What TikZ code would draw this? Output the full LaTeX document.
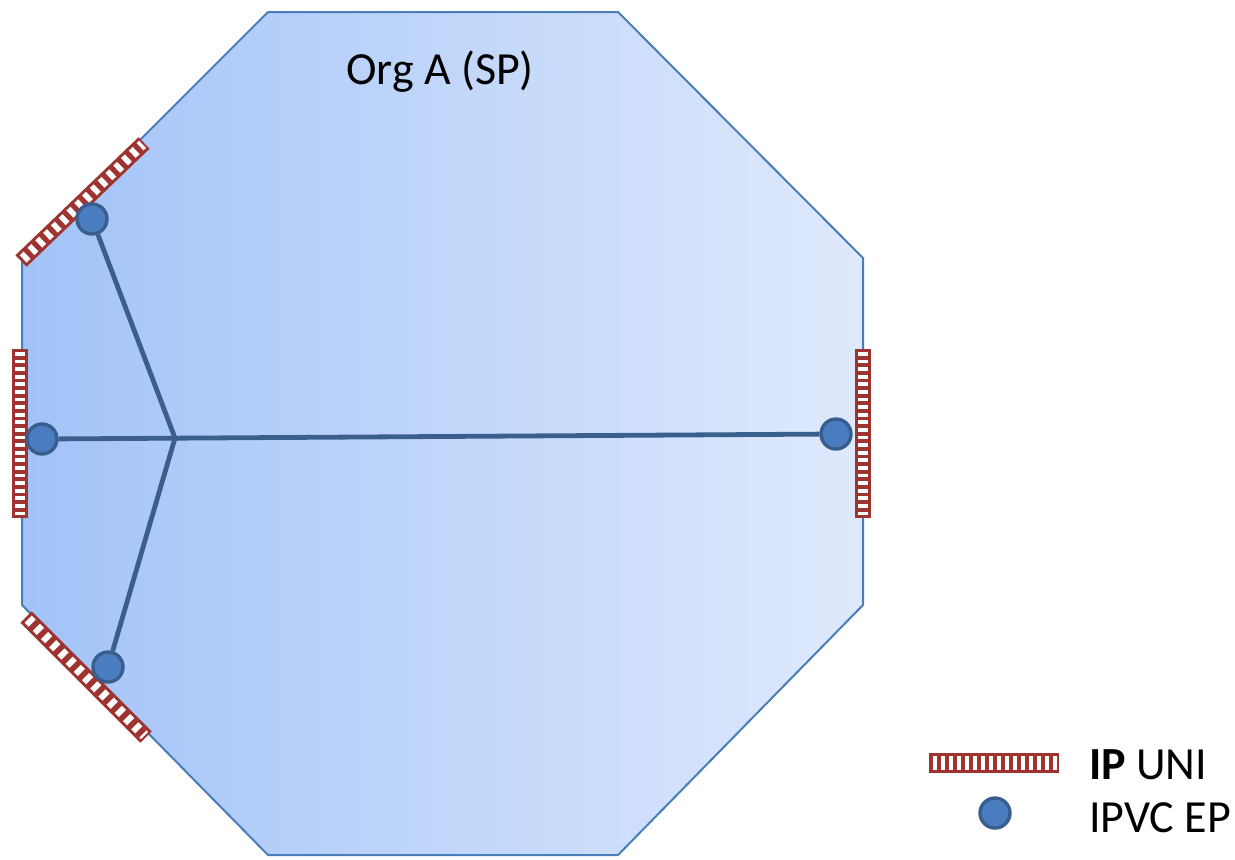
\documentclass[tikz,border=0pt]{standalone}
\usepackage{fontspec}
\setmainfont{Carlito}
\usetikzlibrary{positioning}
\definecolor{cedge}{HTML}{4A7EBB}
\definecolor{cleft}{HTML}{A2C3F8}
\definecolor{cright}{HTML}{DFE9FC}
\definecolor{cuni}{HTML}{9E3330}
\definecolor{cdot}{HTML}{4A7DBF}
\definecolor{cdotrim}{HTML}{385E8E}
\definecolor{cline}{HTML}{3A5F8C}

\begin{document}
\begin{tikzpicture}[
  x=0.5pt, y=-0.5pt,
  font=\fontsize{23}{28}\selectfont,
  org/.style={draw=cedge, line width=1pt, left color=cleft, right color=cright},
  unibar/.style={draw=cuni, line width=8pt},
  unistripe/.style={draw=white, line width=5pt, dash pattern=on #1 off #1},
  ep/.style={circle, fill=cdot, draw=cdotrim, line width=1.7pt, minimum size=15pt, inner sep=0pt},
  vc/.style={draw=cline, line width=2.4pt},
]
\useasboundingbox (0,0) rectangle (1235,859);
% Octagon
\path[org] (268,12) -- (618,12) -- (863,258) -- (863,605) -- (618,855)
  -- (268,855) -- (22,605) -- (22,258) -- cycle;
\node (title) at (440,72) {Org A (SP)};
% UNI bars
\coordinate (uniNWa) at (21,261);  \coordinate (uniNWb) at (144,143);
\coordinate (uniWa)  at (20,349);  \coordinate (uniWb)  at (20,518);
\coordinate (uniEa)  at (863,349); \coordinate (uniEb)  at (863,518);
\coordinate (uniSWa) at (26,617);  \coordinate (uniSWb) at (146,737);
\foreach \a/\b/\d in {uniNWa/uniNWb/2.7pt, uniWa/uniWb/1.9pt, uniEa/uniEb/1.9pt, uniSWa/uniSWb/2.9pt}{
  \draw[unibar] (\a) -- (\b);
  \draw[unistripe=\d, shorten <=1.5pt, shorten >=1pt] (\a) -- (\b);
}
% IPVC
\coordinate (hub) at (175,438);
\node[ep] (epNW) at (92,219) {};
\node[ep] (epW)  at (42,439) {};
\node[ep] (epE)  at (836,434) {};
\node[ep] (epSW) at (108,667) {};
\draw[vc] (epW) -- (epE);
\draw[vc] (epNW) -- (hub) -- (epSW);
% Legend
\coordinate (legUa) at (929,763); \coordinate (legUb) at (1059,763);
\draw[draw=cuni, line width=10pt] (legUa) -- (legUb);
\draw[draw=white, line width=7pt, dash pattern=on 2pt off 2pt, shorten <=2pt, shorten >=1pt] (legUa) -- (legUb);
\node[anchor=west] (legU) at (1082,765) {\textbf{IP} UNI};
\node[ep] (legE) at (995,813) {};
\node[anchor=west] (legEt) at (1082,818) {IPVC EP};
\end{tikzpicture}
\end{document}
